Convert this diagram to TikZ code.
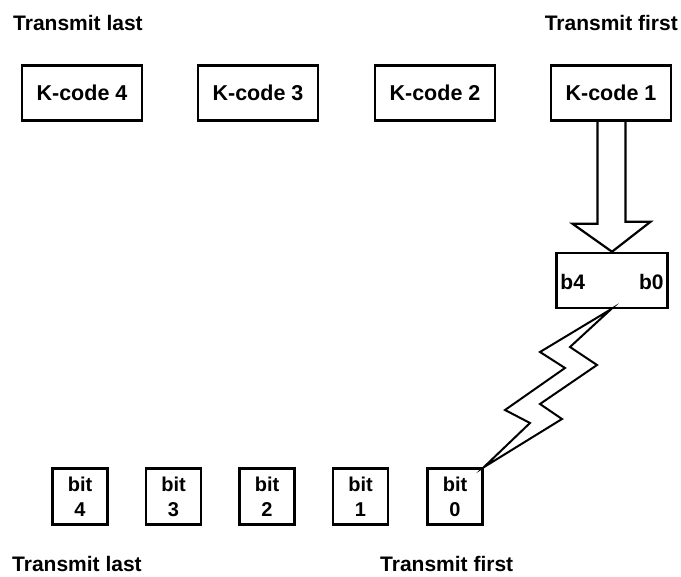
\documentclass[tikz,border=0pt]{standalone}
\usepackage{fontspec}
\setmainfont{Liberation Sans}
\usetikzlibrary{calc}
\begin{document}
\begin{tikzpicture}[x=1pt,y=-1pt,
  lbl/.style={font=\fontsize{21}{23}\selectfont\bfseries, inner sep=0pt},
  kbox/.style={draw, line width=2.5pt, minimum width=120pt, minimum height=55pt, inner sep=0pt, font=\fontsize{21.5}{23}\selectfont\bfseries},
  bitbox/.style={draw, line width=2.5pt, minimum width=55pt, minimum height=56pt, inner sep=0pt, align=center, font=\fontsize{20}{25}\selectfont\bfseries},
  wire/.style={line width=2.2pt, line join=miter}]
\useasboundingbox (0,0) rectangle (681,577);
% labels
\node[lbl, anchor=base west] (tl1) at (13,31) {Transmit last};
\node[lbl, anchor=base east] (tf1) at (678,31) {Transmit first};
\node[lbl, anchor=base west] (tl2) at (12,572) {Transmit last};
\node[lbl, anchor=base west] (tf2) at (380,572) {Transmit first};
% K-code boxes
\node[kbox] (k4) at (82,93) {K-code 4};
\node[kbox] (k3) at (258,93) {K-code 3};
\node[kbox] (k2) at (435,93) {K-code 2};
\node[kbox] (k1) at (611,93) {K-code 1};
% b box
\node[draw, line width=2.5pt, minimum width=111pt, minimum height=55pt, inner sep=0pt] (bb) at (612,280.5) {};
\node[lbl, anchor=west] (b4) at ($(bb.west)+(5,1)$) {b4};
\node[lbl, anchor=east] (b0) at ($(bb.east)+(-5,1)$) {b0};
% hollow arrow
\draw[wire]
  ($(k1.south)+(-13.5,0)$) -- ++(0,102) -- ++(-25,0) -- (bb.north)
  -- ++(38.5,-30) -- ++(-25,0) -- ++(0,-102);
% bit boxes
\node[bitbox] (bit4) at (80,496.5) {bit\\4};
\node[bitbox] (bit3) at (173.5,496.5) {bit\\3};
\node[bitbox] (bit2) at (267,496.5) {bit\\2};
\node[bitbox] (bit1) at (360.5,496.5) {bit\\1};
\node[bitbox] (bit0) at (455,496.5) {bit\\0};
% lightning
\coordinate (ltop) at ($(bb.south)+(-1,0)$);
\draw[wire, line width=2pt]
  (ltop) -- (540,352) -- (565,368) -- (505,410) -- (530,423) -- (bit0.north east)
  -- (562,419) -- (540,404) -- (597,365) -- (570,347) -- cycle;
\end{tikzpicture}
\end{document}
